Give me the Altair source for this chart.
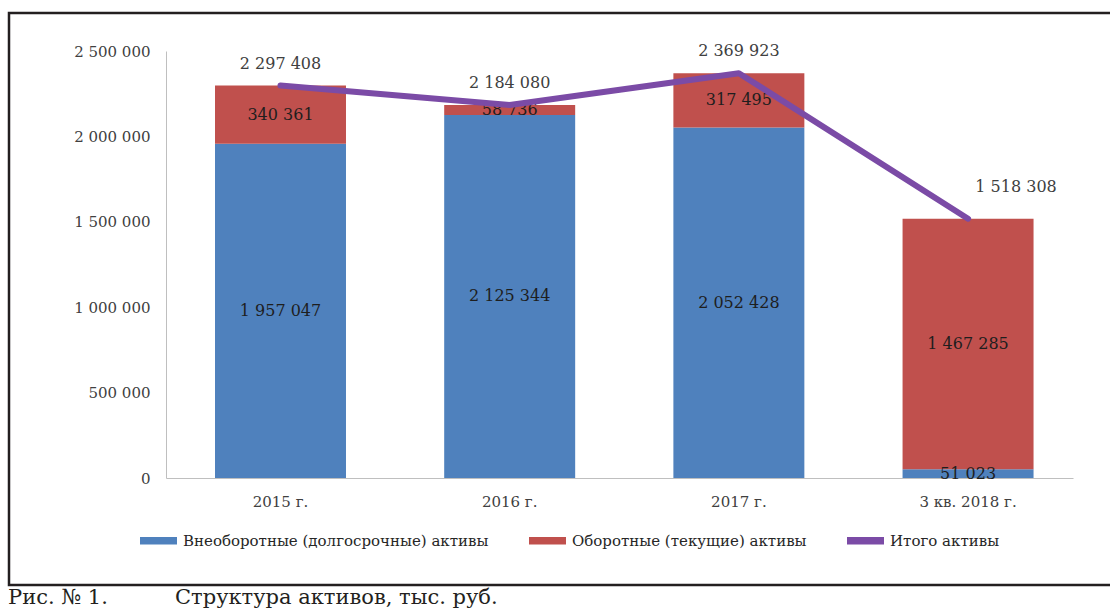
import altair as alt
import pandas as pd

categories = ["2015 г.", "2016 г.", "2017 г.", "3 кв. 2018 г."]
noncurrent = [1957047, 2125344, 2052428, 51023]
current = [340361, 58736, 317495, 1467285]
totals = [2297408, 2184080, 2369923, 1518308]
series_names = ["Внеоборотные (долгосрочные) активы", "Оборотные (текущие) активы", "Итого активы"]
colors = ["#4F81BD", "#C0504D", "#7B4BA6"]
y_ticks = [0, 500000, 1000000, 1500000, 2000000, 2500000]
caption_num = "Рис. № 1."
caption_text = "Структура активов, тыс. руб."

rows = []
for c, a, b in zip(categories, noncurrent, current):
    rows.append({"cat": c, "series": series_names[0], "ord": 0, "value": a})
    rows.append({"cat": c, "series": series_names[1], "ord": 1, "value": b})
bars_df = pd.DataFrame(rows)
tot_df = pd.DataFrame({"cat": categories, "total": totals})
one = pd.DataFrame({"k": [0]})

FONT = "DejaVu Serif"
xscale = alt.Scale(domain=categories, paddingInner=0.4285, paddingOuter=0.193, align=0.554)
yscale = alt.Scale(domain=[0, 2500000], nice=False)

x_axis = alt.Axis(title=None, labelAngle=0, ticks=False, domainColor="#BFBFBF",
                  domainWidth=1, labelFont=FONT, labelFontSize=15,
                  labelColor="#404040", labelPadding=16)
y_axis = alt.Axis(title=None, values=y_ticks, labelExpr="format(datum.value, ',')",
                  ticks=False, grid=False, domainColor="#BFBFBF", domainWidth=1,
                  labelFont=FONT, labelFontSize=15, labelColor="#404040", labelPadding=16)


def xe():
    return alt.X("cat:N", sort=categories, scale=xscale, axis=x_axis)


def ye(field):
    return alt.Y(field, scale=yscale, axis=y_axis)


bars = alt.Chart(bars_df).mark_bar(stroke=None).encode(
    x=xe(),
    y=alt.Y("value:Q", stack="zero", scale=yscale, axis=y_axis),
    color=alt.Color("series:N", scale=alt.Scale(domain=series_names, range=colors),
                    legend=alt.Legend(title=None, orient="none", legendX=-26, legendY=471,
                                      direction="horizontal", columns=3,
                                      symbolType="M-1,-0.2H1V0.2H-1Z", symbolSize=1369,
                                      symbolStrokeWidth=0, symbolOpacity=1,
                                      labelFont=FONT, labelFontSize=15,
                                      labelColor="#262626", labelOffset=6,
                                      columnPadding=40, labelLimit=400)),
    order=alt.Order("ord:Q", sort="ascending"),
)

seg_labels = alt.Chart(bars_df).transform_stack(
    stack="value", groupby=["cat"], as_=["y0", "y1"], sort=[alt.SortField("ord", order="ascending")]
).transform_calculate(mid="(datum.y0 + datum.y1) / 2").mark_text(
    font=FONT, fontSize=16, color="#1E1E1E", baseline="middle"
).encode(
    x=xe(),
    y=ye("mid:Q"),
    text=alt.Text("value:Q", format=","),
)

line = alt.Chart(tot_df).mark_line(color=colors[2], strokeWidth=6, strokeCap="round",
                                   strokeJoin="round").encode(
    x=xe(),
    y=ye("total:Q"),
)

tot_labels = alt.Chart(tot_df).transform_filter(
    alt.datum.cat != categories[-1]
).mark_text(font=FONT, fontSize=16, color="#404040", baseline="middle", dy=-22).encode(
    x=xe(),
    y=ye("total:Q"),
    text=alt.Text("total:Q", format=","),
)
tot_last = alt.Chart(tot_df).transform_filter(
    alt.datum.cat == categories[-1]
).mark_text(font=FONT, fontSize=16, color="#404040", baseline="middle", dy=-32, dx=48).encode(
    x=xe(),
    y=ye("total:Q"),
    text=alt.Text("total:Q", format=","),
)

frame = alt.Chart(one).mark_rect(fill="transparent", stroke="#231F20", strokeWidth=2.5).encode(
    x=alt.value(-157), x2=alt.value(960), y=alt.value(-38), y2=alt.value(534)
)
cap1 = alt.Chart(one).mark_text(text=caption_num, font=FONT, fontSize=21, color="#231F20",
                                align="left", baseline="alphabetic").encode(
    x=alt.value(-158), y=alt.value(553)
)
cap2 = alt.Chart(one).mark_text(text=caption_text, font=FONT, fontSize=21, color="#231F20",
                                align="left", baseline="alphabetic").encode(
    x=alt.value(9), y=alt.value(553)
)

chart = alt.layer(frame, bars, seg_labels, line, tot_labels, tot_last, cap1, cap2).properties(
    width=907, height=427,
    autosize=alt.AutoSizeParams(type="none"),
    padding={"left": 166, "top": 51, "right": 37, "bottom": 132},
    background="white",
).configure(
    locale={"number": {"decimal": ",", "thousands": " ", "grouping": [3], "currency": ["", ""]}}
).configure_view(stroke=None)

chart.save("out.html", embed_options={"renderer": "svg", "actions": False})
